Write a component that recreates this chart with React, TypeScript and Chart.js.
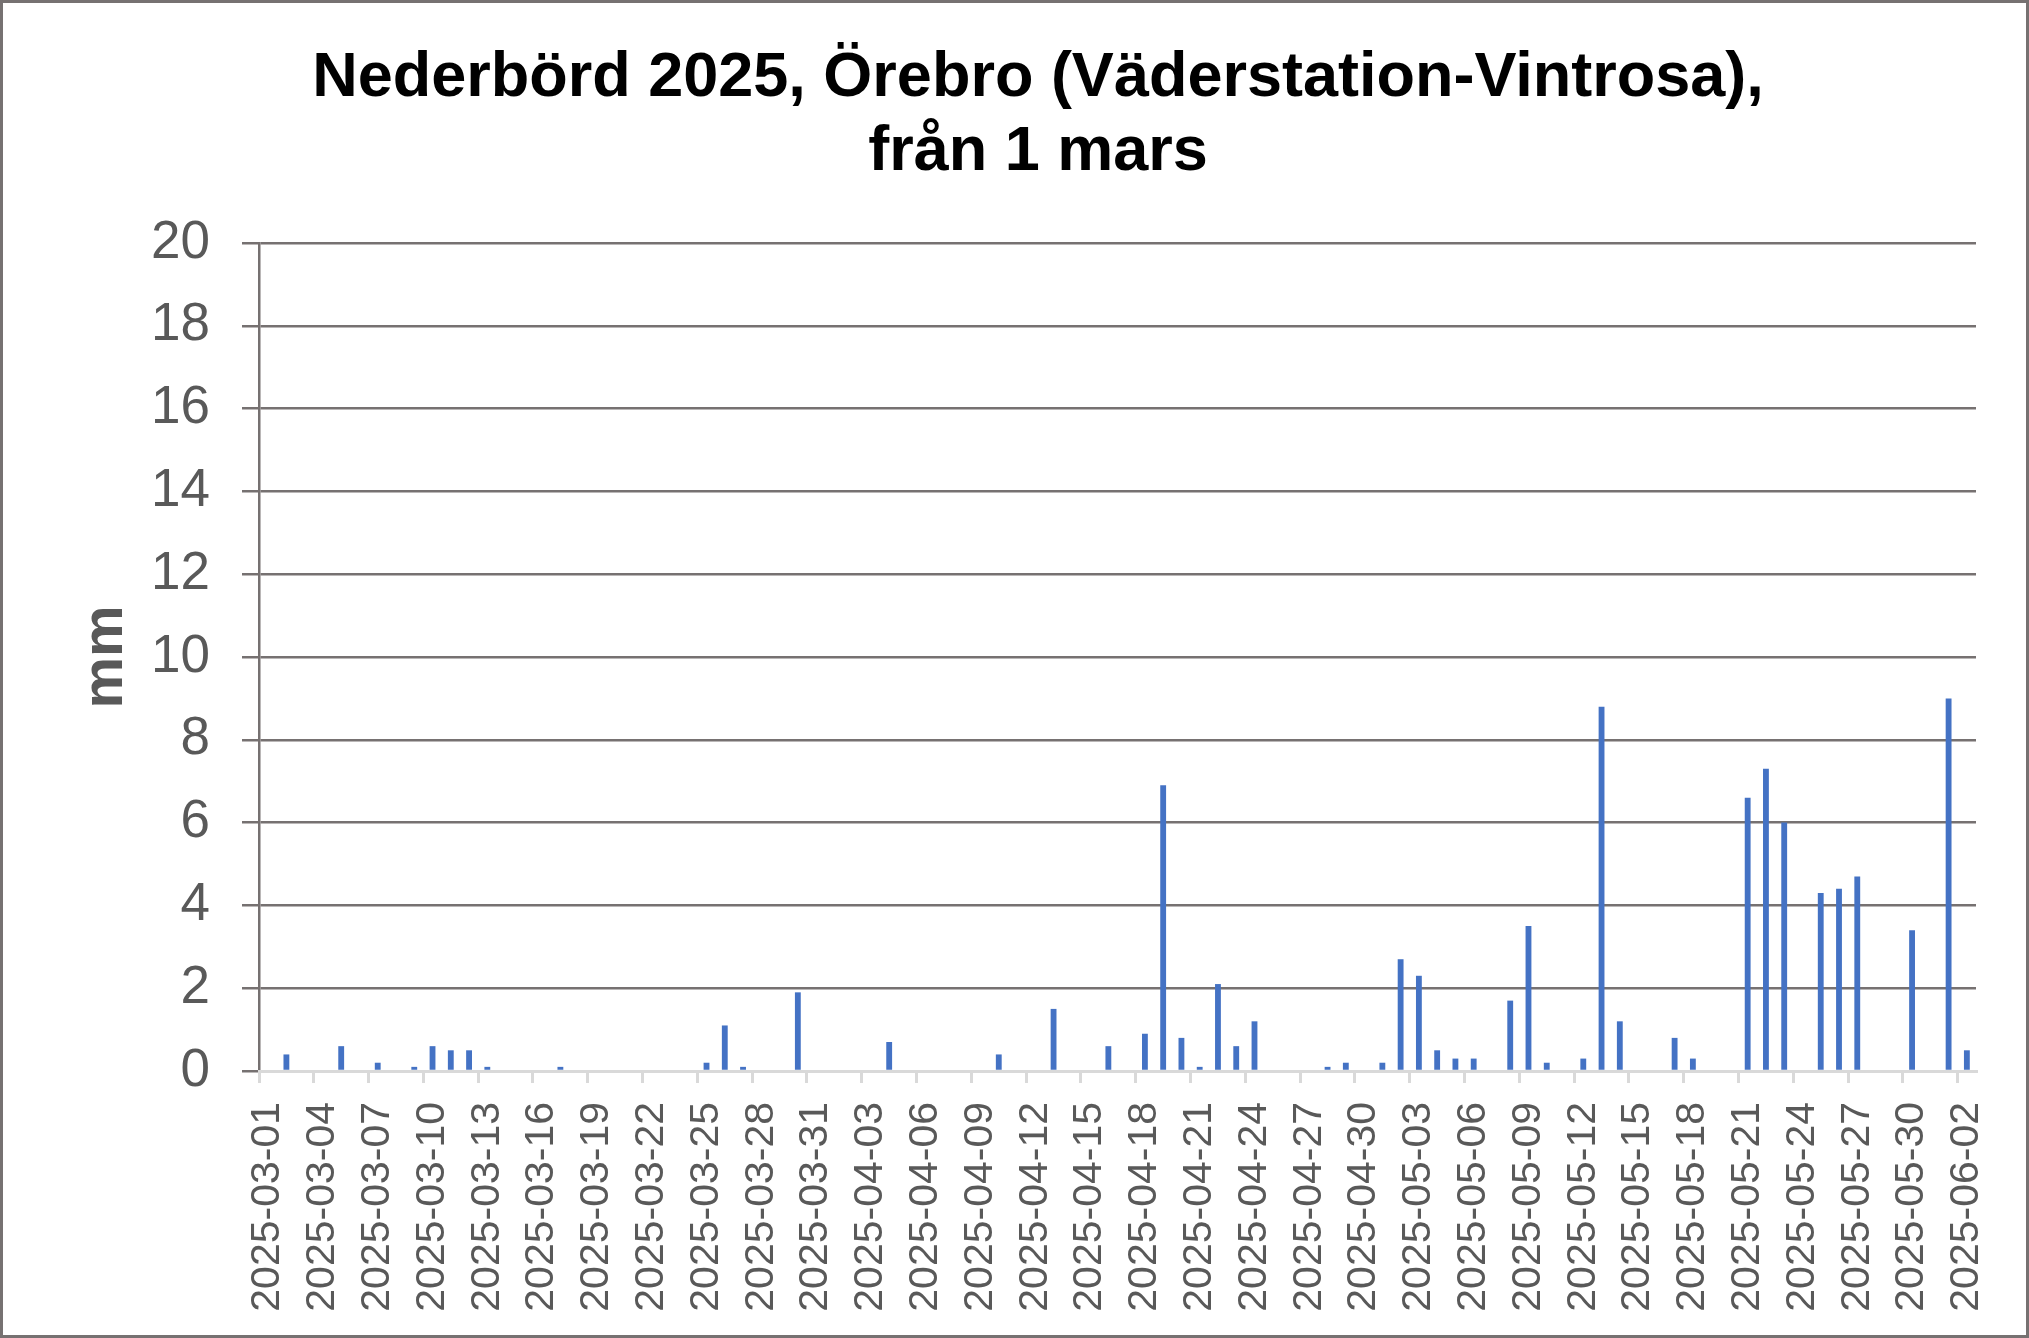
import React, { useEffect, useRef } from "react";
import { Chart, registerables } from "chart.js";

Chart.register(...registerables);

const TITLE_LINES = ["Nederbörd 2025, Örebro (Väderstation-Vintrosa),", "från 1 mars"];
const Y_TITLE = "mm";

const MARCH = [
  "2025-03-01", "2025-03-02", "2025-03-03", "2025-03-04", "2025-03-05", "2025-03-06", "2025-03-07", "2025-03-08",
  "2025-03-09", "2025-03-10", "2025-03-11", "2025-03-12", "2025-03-13", "2025-03-14", "2025-03-15", "2025-03-16",
  "2025-03-17", "2025-03-18", "2025-03-19", "2025-03-20", "2025-03-21", "2025-03-22", "2025-03-23", "2025-03-24",
  "2025-03-25", "2025-03-26", "2025-03-27", "2025-03-28", "2025-03-29", "2025-03-30", "2025-03-31",
];
const APRIL = [
  "2025-04-01", "2025-04-02", "2025-04-03", "2025-04-04", "2025-04-05", "2025-04-06", "2025-04-07", "2025-04-08",
  "2025-04-09", "2025-04-10", "2025-04-11", "2025-04-12", "2025-04-13", "2025-04-14", "2025-04-15", "2025-04-16",
  "2025-04-17", "2025-04-18", "2025-04-19", "2025-04-20", "2025-04-21", "2025-04-22", "2025-04-23", "2025-04-24",
  "2025-04-25", "2025-04-26", "2025-04-27", "2025-04-28", "2025-04-29", "2025-04-30",
];
const MAY = [
  "2025-05-01", "2025-05-02", "2025-05-03", "2025-05-04", "2025-05-05", "2025-05-06", "2025-05-07", "2025-05-08",
  "2025-05-09", "2025-05-10", "2025-05-11", "2025-05-12", "2025-05-13", "2025-05-14", "2025-05-15", "2025-05-16",
  "2025-05-17", "2025-05-18", "2025-05-19", "2025-05-20", "2025-05-21", "2025-05-22", "2025-05-23", "2025-05-24",
  "2025-05-25", "2025-05-26", "2025-05-27", "2025-05-28", "2025-05-29", "2025-05-30", "2025-05-31",
];
const JUNE = ["2025-06-01", "2025-06-02"];

const MARCH_MM = [
  0, 0.4, 0, 0, 0.6, 0, 0.2, 0, 0.1, 0.6, 0.5, 0.5, 0.1, 0, 0, 0,
  0.1, 0, 0, 0, 0, 0, 0, 0, 0.2, 1.1, 0.1, 0, 0, 1.9, 0,
];
const APRIL_MM = [
  0, 0, 0, 0.7, 0, 0, 0, 0, 0, 0.4, 0, 0, 1.5, 0, 0, 0.6,
  0, 0.9, 6.9, 0.8, 0.1, 2.1, 0.6, 1.2, 0, 0, 0, 0.1, 0.2, 0,
];
const MAY_MM = [
  0.2, 2.7, 2.3, 0.5, 0.3, 0.3, 0, 1.7, 3.5, 0.2, 0, 0.3, 8.8, 1.2, 0, 0,
  0.8, 0.3, 0, 0, 6.6, 7.3, 6.0, 0, 4.3, 4.4, 4.7, 0, 0, 3.4, 0,
];
const JUNE_MM = [9.0, 0.5];

const CATEGORIES = [...MARCH, ...APRIL, ...MAY, ...JUNE];
const RAIN_MM = [...MARCH_MM, ...APRIL_MM, ...MAY_MM, ...JUNE_MM];

const Y_MIN = 0;
const Y_MAX = 20;
const Y_STEP = 2;
const LABEL_EVERY = 3;

const W = 2029;
const H = 1338;
const FONT = "'Liberation Sans', Arial, sans-serif";

export default function App() {
  const ref = useRef<HTMLCanvasElement | null>(null);

  useEffect(() => {
    document.body.style.margin = "0";
    const canvas = ref.current;
    if (!canvas) return;

    const framePlugin = {
      id: "frame",
      beforeDraw(chart: any) {
        const { ctx } = chart;
        ctx.save();
        ctx.fillStyle = "#ffffff";
        ctx.fillRect(0, 0, chart.width, chart.height);
        ctx.restore();
      },
      afterDraw(chart: any) {
        const { ctx } = chart;
        ctx.save();
        ctx.strokeStyle = "#767171";
        ctx.lineWidth = 3;
        ctx.strokeRect(1.5, 1.5, chart.width - 3, chart.height - 3);
        ctx.restore();
      },
    };

    const chart = new Chart(canvas, {
      type: "bar",
      data: {
        labels: CATEGORIES,
        datasets: [
          {
            label: "Nederbörd",
            data: RAIN_MM,
            backgroundColor: "#4472C4",
            borderWidth: 0,
            barPercentage: 0.32,
            categoryPercentage: 1,
          },
        ],
      },
      options: {
        responsive: false,
        animation: false,
        devicePixelRatio: 1,
        layout: { padding: { left: 100, right: 53, top: 0, bottom: 0 } },
        plugins: {
          legend: { display: false },
          tooltip: { enabled: false },
          title: {
            display: true,
            text: TITLE_LINES,
            color: "#000000",
            font: { family: FONT, size: 63, weight: "bold", lineHeight: 74 / 63 },
            padding: { top: 42, bottom: 53 },
          },
        },
        scales: {
          x: {
            offset: true,
            grid: {
              offset: true,
              drawOnChartArea: false,
              drawTicks: true,
              tickLength: 12,
              lineWidth: 3,
              color: (ctx: any) => (ctx.index % LABEL_EVERY === 0 ? "#d9d9d9" : "rgba(0,0,0,0)"),
            },
            border: { display: true, color: "#d9d9d9", width: 3, z: 1 },
            ticks: {
              autoSkip: false,
              minRotation: 90,
              maxRotation: 90,
              padding: 19,
              color: "#595959",
              font: { family: FONT, size: 41 },
              callback: (_v: any, i: number) => (i % LABEL_EVERY === 0 ? CATEGORIES[i] : ""),
            },
            afterFit: (scale: any) => {
              scale.height = 267;
              scale.paddingLeft = 0;
              scale.paddingRight = 0;
            },
          },
          y: {
            min: Y_MIN,
            max: Y_MAX,
            ticks: {
              stepSize: Y_STEP,
              padding: 32,
              color: "#595959",
              font: { family: FONT, size: 53 },
            },
            grid: {
              color: "#767171",
              lineWidth: 2.5,
              drawTicks: true,
              tickLength: 17,
            },
            border: { display: true, color: "#767171", width: 2.5 },
            title: {
              display: true,
              text: Y_TITLE,
              color: "#595959",
              font: { family: FONT, size: 58, weight: "bold", lineHeight: 1.2 },
              padding: { top: -29, bottom: 0 },
            },
            afterFit: (scale: any) => {
              scale.width = 159;
            },
          },
        },
      },
      plugins: [framePlugin],
    });

    return () => {
      chart.destroy();
    };
  }, []);

  return (
    <div style={{ width: W, height: H }}>
      <canvas ref={ref} width={W} height={H} style={{ display: "block", width: W, height: H }} />
    </div>
  );
}
